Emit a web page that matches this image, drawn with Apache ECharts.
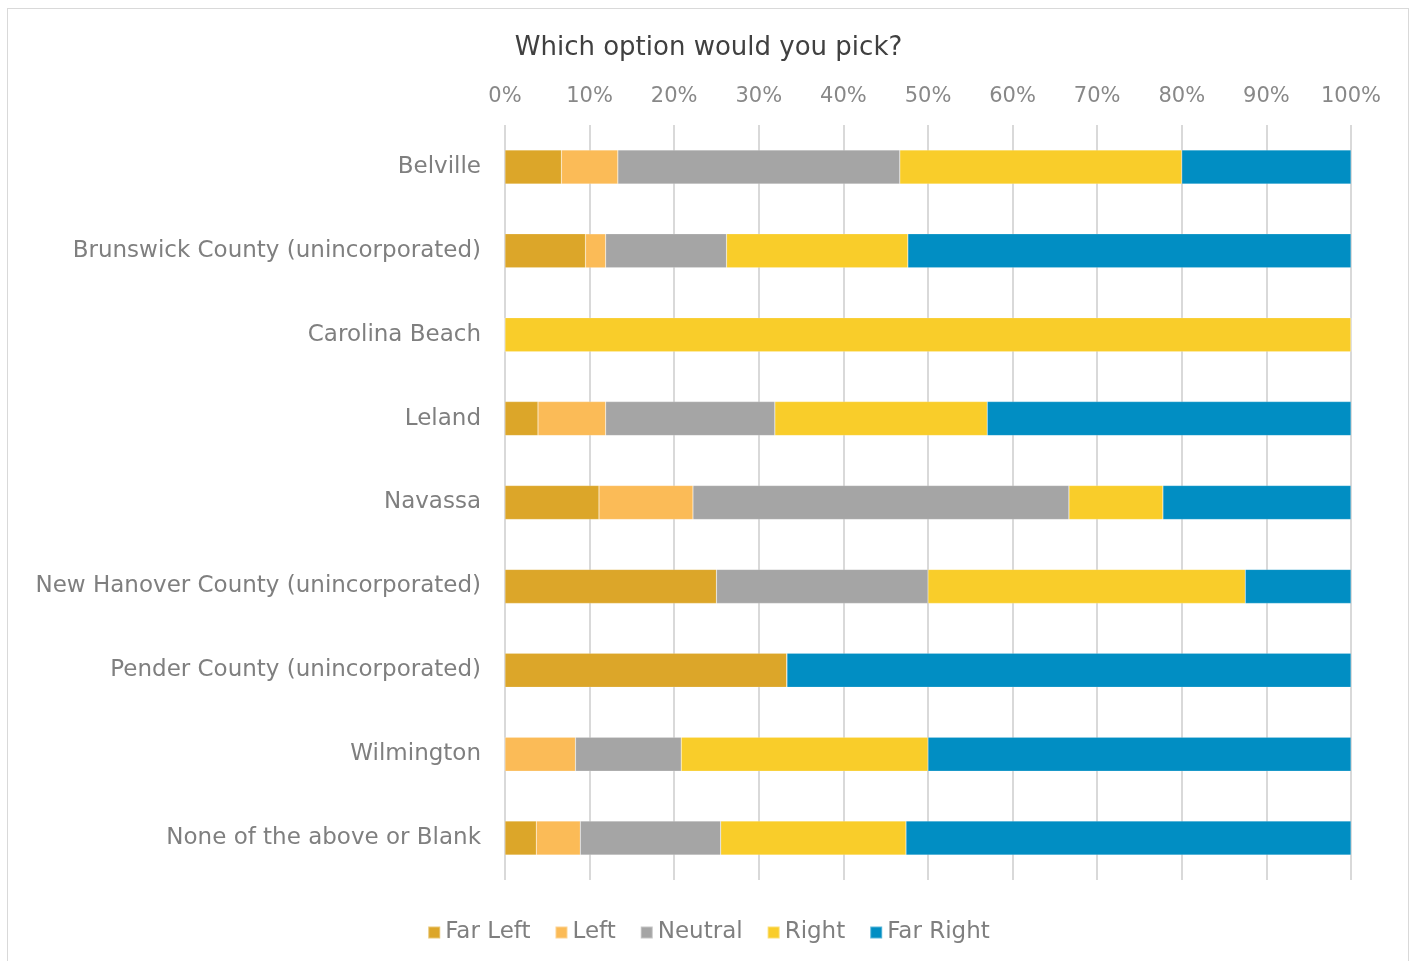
<!DOCTYPE html>
<html>
<head>
<meta charset="utf-8">
<script src="https://cdn.jsdelivr.net/npm/echarts@6/dist/echarts.min.js"></script>
<style>
  html, body { margin: 0; padding: 0; background: #fff; }
  #frame { position: absolute; left: 7px; top: 8px; width: 1402px; height: 980px; border: 1px solid #d9d9d9; box-sizing: border-box; }
  #chart { position: absolute; left: 0; top: 0; width: 1417px; height: 961px; }
</style>
</head>
<body>
<div id="frame"></div>
<div id="chart"></div>
<script>
// Response shares (%) per location, one array per answer option
const categories = [
  'Belville',
  'Brunswick County (unincorporated)',
  'Carolina Beach',
  'Leland',
  'Navassa',
  'New Hanover County (unincorporated)',
  'Pender County (unincorporated)',
  'Wilmington',
  'None of the above or Blank'
];
const farLeft  = [6.67, 9.52, 0, 3.9, 11.11, 25, 33.33, 0, 3.7];
const left     = [6.67, 2.38, 0, 8.0, 11.11, 0, 0, 8.33, 5.2];
const neutral  = [33.33, 14.29, 0, 20.0, 44.44, 25, 0, 12.5, 16.6];
const right    = [33.33, 21.43, 100, 25.1, 11.11, 37.5, 0, 29.17, 21.9];
const farRight = [20, 52.38, 0, 43.0, 22.22, 12.5, 66.67, 50, 52.6];
const tickValues = [0, 10, 20, 30, 40, 50, 60, 70, 80, 90, 100];

const seriesDefs = [
  { name: 'Far Left',  data: farLeft,  color: '#DCA629' },
  { name: 'Left',      data: left,     color: '#FBBB57' },
  { name: 'Neutral',   data: neutral,  color: '#A5A5A5' },
  { name: 'Right',     data: right,    color: '#F9CD2A' },
  { name: 'Far Right', data: farRight, color: '#018EC3' }
];

const FONT = '"DejaVu Sans", sans-serif';

const chart = echarts.init(document.getElementById('chart'));
chart.setOption({
  animation: false,
  backgroundColor: 'transparent',
  title: {
    text: 'Which option would you pick?',
    left: 'center',
    top: 30,
    textStyle: { fontFamily: FONT, fontSize: 26, fontWeight: 'normal', color: '#404040' }
  },
  legend: {
    bottom: 12,
    left: 'center',
    itemWidth: 12,
    itemHeight: 12,
    itemGap: 24,
    icon: 'rect',
    textStyle: { fontFamily: FONT, fontSize: 23, color: '#7f7f7f' },
    data: seriesDefs.map(s => s.name)
  },
  grid: { left: 505, right: 66, top: 125, bottom: 81, containLabel: false },
  xAxis: {
    type: 'value',
    position: 'top',
    min: tickValues[0],
    max: tickValues[tickValues.length - 1],
    interval: tickValues[1] - tickValues[0],
    axisLine: { show: false },
    axisTick: { show: false },
    splitLine: { show: true, lineStyle: { color: '#d9d9d9', width: 2 } },
    axisLabel: {
      formatter: '{value}%',
      margin: 18,
      fontFamily: FONT,
      fontSize: 21,
      color: '#888888'
    }
  },
  yAxis: {
    type: 'category',
    inverse: true,
    data: categories,
    axisLine: { show: false },
    axisTick: { show: false },
    axisLabel: { margin: 24, fontFamily: FONT, fontSize: 23, color: '#7f7f7f', padding: [8, 0, 0, 0] }
  },
  series: seriesDefs.map(s => ({
    name: s.name,
    type: 'bar',
    stack: 'total',
    barWidth: 34,
    data: s.data,
    itemStyle: { color: s.color, borderColor: 'rgba(255,255,255,0.35)', borderWidth: 0.5 }
  }))
});
</script>
</body>
</html>
